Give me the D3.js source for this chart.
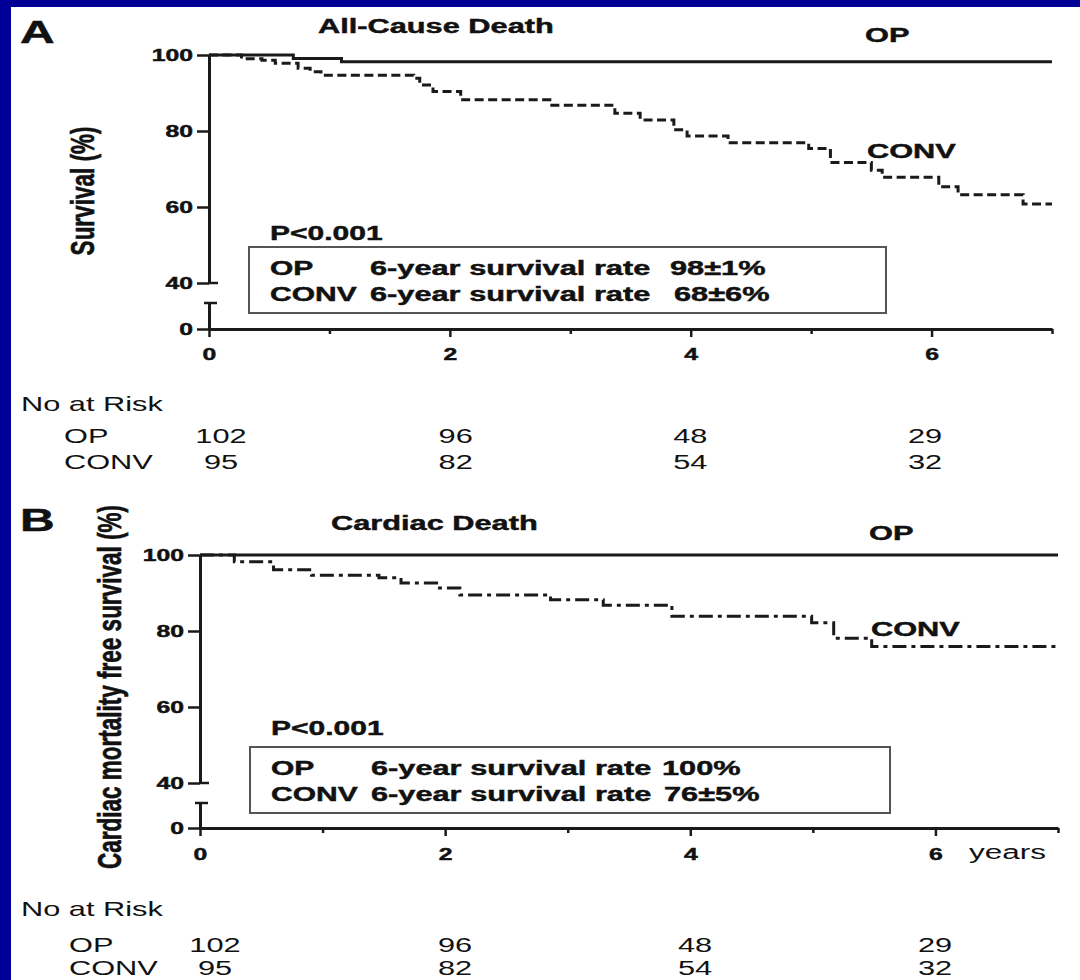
<!DOCTYPE html>
<html>
<head>
<meta charset="utf-8">
<script src="https://cdn.jsdelivr.net/npm/d3@7"></script>
<style>
  html, body { margin: 0; padding: 0; background: #000096; }
  svg { display: block; }
  text { font-family: "Liberation Sans", Arial, Helvetica, sans-serif; fill: #111; }
  text.heavy { stroke: #111; stroke-width: 0.45px; }
</style>
</head>
<body>
<svg id="chart" width="1080" height="980"></svg>
<script>
// ---------- data ----------
const groups = ["OP", "CONV"];
const yearTicks = [0, 2, 4, 6];
const minorYearTicks = [1, 3, 5, 7];
const survivalTicks = [40, 60, 80, 100];
const lowTicks = [0];

// Panel A – all-cause death (Kaplan–Meier steps: years, % surviving)
const opAllTime  = [0, 0.70, 1.10, 7.0];
const opAllSurv  = [100, 99.1, 98.2, 98.2];
const convAllTime = [0, 0.27, 0.44, 0.55, 0.74, 0.84, 0.93, 1.70, 1.75, 1.86, 2.09, 2.83, 3.37, 3.58, 3.86, 3.97, 4.31, 4.98, 5.16, 5.50, 5.59, 6.06, 6.22, 6.76, 7.0];
const convAllSurv = [100, 99.0, 98.6, 97.8, 96.5, 95.6, 94.7, 93.9, 92.1, 90.4, 88.2, 86.8, 84.7, 82.9, 80.3, 78.7, 76.9, 75.4, 71.7, 69.7, 67.8, 65.3, 63.2, 60.8, 60.8];

// Panel B – cardiac death
const opCardTime  = [0, 7.0];
const opCardSurv  = [100, 100];
const convCardTime = [0, 0.28, 0.60, 0.91, 1.46, 1.64, 1.93, 2.12, 2.86, 3.29, 3.85, 4.99, 5.17, 5.48, 7.0];
const convCardSurv = [100, 98.2, 96.1, 94.7, 94.0, 92.6, 91.3, 89.5, 88.2, 86.8, 83.9, 82.2, 78.1, 75.9, 75.9];

// Numbers at risk
const riskYears = [0, 2, 4, 6];
const riskOP   = [102, 96, 48, 29];
const riskCONV = [95, 82, 54, 32];

// Titles and summary text
const panelLetters = ["A", "B"];
const panelTitles = ["All-Cause Death", "Cardiac Death"];
const yTitles = ["Survival (%)", "Cardiac mortality free survival (%)"];
const pValues = ["P<0.001", "P<0.001"];
const rateLabel = "6-year survival rate";
const ratesAll  = ["98±1%", "68±6%"];
const ratesCard = ["100%", "76±5%"];

// ---------- drawing ----------
const SX = 1.5;           // horizontal stretch of the slide artwork
const INK = "#1a1a1a";
const svg = d3.select("#chart");

svg.append("rect").attr("x", 11).attr("y", 7).attr("width", 1069).attr("height", 973).attr("fill", "#fff");

function label(parent, x, y, str, size, weight, anchor) {
  const bold = (weight || "bold") === "bold";
  return parent.append("text")
    .attr("class", bold ? "heavy" : null)
    .attr("transform", `translate(${x},${y}) scale(${SX},1)`)
    .attr("text-anchor", anchor || "start")
    .style("font-size", size + "px")
    .style("font-weight", bold ? "bold" : "normal")
    .text(str);
}

function styleAxis(g, size) {
  g.select(".domain").attr("stroke", INK).attr("stroke-width", 3);
  g.selectAll(".tick line").attr("stroke", INK).attr("stroke-width", 2.5);
  g.selectAll(".tick text")
    .attr("class", "heavy")
    .attr("fill", "#111")
    .style("font-family", '"Liberation Sans", Arial, sans-serif')
    .style("font-size", size + "px")
    .style("font-weight", "bold")
    .each(function () {
      const t = d3.select(this);
      const x = +t.attr("x") || 0;
      t.attr("x", 0).attr("transform", `translate(${x},0) scale(${SX},1)`);
    });
}

function drawPanel(cfg) {
  const g = svg.append("g");
  const x = d3.scaleLinear().domain([0, 7]).range([cfg.x0, cfg.x1]);
  const yUp = d3.scaleLinear().domain([40, 100]).range([cfg.y40, cfg.y100]);
  const yLow = d3.scaleLinear().domain([0, 10]).range([cfg.yAxis, cfg.yCap]);

  // x axis: major and minor ticks
  const gx = g.append("g").attr("transform", `translate(0,${cfg.yAxis})`)
    .call(d3.axisBottom(x).tickValues(yearTicks).tickSize(8).tickPadding(cfg.xPad).tickSizeOuter(0).tickFormat(d3.format("d")));
  styleAxis(gx, 16.5);
  const gxm = g.append("g").attr("transform", `translate(0,${cfg.yAxis})`)
    .call(d3.axisBottom(x).tickValues(minorYearTicks).tickSize(5).tickSizeOuter(0).tickFormat(""));
  gxm.select(".domain").remove();
  gxm.selectAll(".tick line").attr("stroke", INK).attr("stroke-width", 2.5);

  // broken y axis: upper part 40–100, lower stub at 0
  const gy = g.append("g").attr("transform", `translate(${cfg.x0},0)`)
    .call(d3.axisLeft(yUp).tickValues(survivalTicks).tickSize(12).tickPadding(4).tickSizeOuter(0));
  styleAxis(gy, 16.5);
  const gyl = g.append("g").attr("transform", `translate(${cfg.x0},0)`)
    .call(d3.axisLeft(yLow).tickValues(lowTicks).tickSize(12).tickPadding(4).tickSizeOuter(0));
  styleAxis(gyl, 16.5);
  g.append("line").attr("x1", cfg.x0 - 1).attr("x2", cfg.x0 + 9).attr("y1", yUp(40)).attr("y2", yUp(40))
    .attr("stroke", INK).attr("stroke-width", 2.5);
  g.append("line").attr("x1", cfg.x0 - 5).attr("x2", cfg.x0 + 8).attr("y1", yLow(10)).attr("y2", yLow(10))
    .attr("stroke", INK).attr("stroke-width", 2.5);

  // survival curves
  const line = d3.line().x(d => x(d[0])).y(d => yUp(d[1])).curve(d3.curveStepAfter);
  g.append("path").datum(d3.zip(cfg.convTime, cfg.convSurv)).attr("d", line)
    .attr("fill", "none").attr("stroke", INK).attr("stroke-width", 3).attr("stroke-dasharray", cfg.dash);
  g.append("path").datum(d3.zip(cfg.opTime, cfg.opSurv)).attr("d", line)
    .attr("fill", "none").attr("stroke", INK).attr("stroke-width", 3);

  // letters, titles, curve labels
  label(g, cfg.letterX, cfg.letterY, cfg.letter, 32);
  label(g, cfg.titleX, cfg.titleY, cfg.title, 20.5);
  label(g, cfg.opLabelX, cfg.opLabelY, groups[0], 20.5);
  label(g, cfg.convLabelX, cfg.convLabelY, groups[1], 20.5);

  // y title (rotated)
  g.append("text")
    .attr("class", "heavy")
    .attr("transform", `translate(${cfg.yTitleX},${cfg.yTitleY}) scale(${SX},1) rotate(-90)`)
    .attr("text-anchor", "middle")
    .style("font-size", "22.5px").style("font-weight", "bold")
    .text(cfg.yTitle);

  // p value and summary box
  label(g, cfg.boxX + 21, cfg.pY, cfg.p, 20);
  g.append("rect").attr("x", cfg.boxX).attr("y", cfg.boxY).attr("width", cfg.boxW).attr("height", cfg.boxH)
    .attr("fill", "none").attr("stroke", "#555").attr("stroke-width", 2);
  groups.forEach((grp, i) => {
    const by = cfg.boxY + 28 + i * 26;
    label(g, cfg.boxX + 21, by, grp, 20);
    label(g, cfg.boxX + 121, by, rateLabel, 20.5);
    label(g, cfg.rateX[i], by, cfg.rates[i], 20.5);
  });

  if (cfg.unit) label(g, cfg.unitX, cfg.unitY, cfg.unit, 21, "normal");

  // numbers at risk
  const rx = d3.scaleLinear().domain([0, 6]).range(cfg.riskRange);
  label(g, 21, cfg.riskY[0], "No at Risk", 20.5, "normal");
  [riskOP, riskCONV].forEach((vals, i) => {
    label(g, cfg.riskLabelX, cfg.riskY[i + 1], groups[i], 20.5, "normal");
    riskYears.forEach((t, j) => {
      label(g, rx(t), cfg.riskY[i + 1], String(vals[j]), 20.5, "normal", "middle");
    });
  });
}

drawPanel({
  x0: 209, x1: 1052, y100: 55, y40: 283, yAxis: 329, yCap: 303, xPad: 11,
  opTime: opAllTime, opSurv: opAllSurv, convTime: convAllTime, convSurv: convAllSurv, dash: "9,4.5",
  letter: panelLetters[0], letterX: 20, letterY: 43,
  title: panelTitles[0], titleX: 318, titleY: 33,
  opLabelX: 865, opLabelY: 42, convLabelX: 867, convLabelY: 158,
  yTitle: yTitles[0], yTitleX: 94, yTitleY: 191,
  p: pValues[0], pY: 240, boxX: 249, boxY: 247, boxW: 637, boxH: 66,
  rates: ratesAll, rateX: [670, 674],
  riskRange: [221, 925], riskY: [411, 443, 469], riskLabelX: 64
});

drawPanel({
  x0: 200, x1: 1058, y100: 555, y40: 783, yAxis: 828, yCap: 803, xPad: 12,
  opTime: opCardTime, opSurv: opCardSurv, convTime: convCardTime, convSurv: convCardSurv, dash: "14,5,4,5",
  letter: panelLetters[1], letterX: 20, letterY: 531,
  title: panelTitles[1], titleX: 331, titleY: 530,
  opLabelX: 869, opLabelY: 540, convLabelX: 871, convLabelY: 636,
  yTitle: yTitles[1], yTitleX: 121, yTitleY: 687,
  p: pValues[1], pY: 735, boxX: 250, boxY: 747, boxW: 640, boxH: 66,
  rates: ratesCard, rateX: [662, 664],
  unit: "years", unitX: 969, unitY: 859,
  riskRange: [215, 935], riskY: [916, 952, 975], riskLabelX: 69
});
</script>
</body>
</html>
